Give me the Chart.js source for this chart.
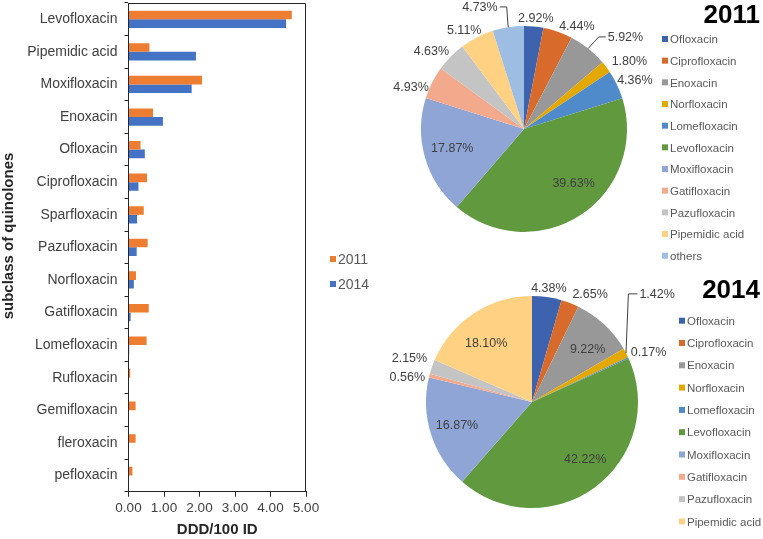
<!DOCTYPE html>
<html>
<head>
<meta charset="utf-8">
<script src="https://cdn.jsdelivr.net/npm/chart.js@4"></script>
<style>
  body { margin: 0; background: #fff; }
  canvas { position: absolute; left: 0; top: 0; }
</style>
</head>
<body>
<canvas id="barChart" width="763" height="539"></canvas>
<canvas id="pie2011" width="763" height="539"></canvas>
<canvas id="pie2014" width="763" height="539"></canvas>
<script>
// bar chart data (DDD/100 ID)
const categories = ['Levofloxacin', 'Pipemidic acid', 'Moxifloxacin', 'Enoxacin', 'Ofloxacin', 'Ciprofloxacin',
  'Sparfloxacin', 'Pazufloxacin', 'Norfloxacin', 'Gatifloxacin', 'Lomefloxacin', 'Rufloxacin',
  'Gemifloxacin', 'fleroxacin', 'pefloxacin'];
const ddd2011 = [4.60, 0.59, 2.07, 0.69, 0.34, 0.52, 0.43, 0.54, 0.21, 0.57, 0.51, 0.05, 0.20, 0.20, 0.11];
const ddd2014 = [4.44, 1.90, 1.78, 0.97, 0.46, 0.28, 0.24, 0.23, 0.15, 0.06, 0.02, 0, 0, 0, 0];
const xTicks = [0, 1, 2, 3, 4, 5];

// pie data (% share)
const pieNames2011 = ['Ofloxacin', 'Ciprofloxacin', 'Enoxacin', 'Norfloxacin', 'Lomefloxacin', 'Levofloxacin',
  'Moxifloxacin', 'Gatifloxacin', 'Pazufloxacin', 'Pipemidic acid', 'others'];
const share2011 = [2.92, 4.44, 5.92, 1.80, 4.36, 39.63, 17.87, 4.93, 4.63, 5.11, 4.73];
const pieNames2014 = ['Ofloxacin', 'Ciprofloxacin', 'Enoxacin', 'Norfloxacin', 'Lomefloxacin', 'Levofloxacin',
  'Moxifloxacin', 'Gatifloxacin', 'Pazufloxacin', 'Pipemidic acid'];
const share2014 = [4.38, 2.65, 9.22, 1.42, 0.17, 42.22, 16.87, 0.56, 2.15, 18.10];

const pieColors = ['#3d63ae', '#d86b2b', '#989898', '#e4a900', '#4f8bcb', '#61993f',
  '#8ea5d6', '#f2a98c', '#c4c4c4', '#ffd182', '#9dbde3'];

// label placement: [angle shift in deg, radius factor, leader side (0 none)]
const place2011 = [[0.6, 1.09, 0], [7.8, 1.13, 0], [9.2, 1.33, 1], [4, 1.22, 0], [1.3, 1.18, 0], [-9.4, 0.71, 0],
  [1.2, 0.72, 0], [-6.3, 1.17, 0], [-4.2, 1.18, 0], [-3.7, 1.13, 0], [-11, 1.26, -1]];
const place2014 = [[0.3, 1.095, 0], [7.2, 1.16, 0], [3.1, 0.73, 0], [-13.3, 1.56, 1], [1, 1.2, 0], [-6.9, 0.73, 0],
  [0.7, 0.74, 0], [-3, 1.2, 0], [0.6, 1.23, 0], [-4.2, 0.71, 0]];

Chart.defaults.font.family = '"Liberation Sans", Arial, sans-serif';
const ORANGE = '#ed7d31';
const BLUE = '#4472c4';

const framePlugin = {
  id: 'frame',
  afterDraw(chart) {
    const ctx = chart.ctx;
    const a = chart.chartArea;
    ctx.save();
    ctx.strokeStyle = '#262626';
    ctx.lineWidth = 1;
    ctx.beginPath();
    ctx.moveTo(a.left, a.top + 0.5);
    ctx.lineTo(a.right - 0.5, a.top + 0.5);
    ctx.lineTo(a.right - 0.5, a.bottom);
    ctx.stroke();
    // y axis title
    ctx.save();
    ctx.translate(9, 236);
    ctx.rotate(-Math.PI / 2);
    ctx.font = 'bold 15px "Liberation Sans"';
    ctx.fillStyle = '#262626';
    ctx.textAlign = 'center';
    ctx.textBaseline = 'middle';
    ctx.fillText('subclass of quinolones', 0, 0);
    ctx.restore();
    // series legend
    ctx.font = '14px "Liberation Sans"';
    ctx.textBaseline = 'middle';
    chart.data.datasets.forEach((ds, i) => {
      const y = 259 + i * 25;
      ctx.fillStyle = ds.backgroundColor;
      ctx.fillRect(330, y - 3, 6, 6);
      ctx.fillStyle = '#595959';
      ctx.fillText(ds.label, 338, y + 1);
    });
    ctx.restore();
  }
};

new Chart(document.getElementById('barChart'), {
  type: 'bar',
  data: {
    labels: categories,
    datasets: [
      { label: '2011', data: ddd2011, backgroundColor: ORANGE, borderWidth: 0 },
      { label: '2014', data: ddd2014, backgroundColor: BLUE, borderWidth: 0 }
    ]
  },
  options: {
    responsive: false,
    animation: false,
    indexAxis: 'y',
    categoryPercentage: 0.53,
    barPercentage: 1.0,
    layout: { padding: { top: 3, right: 457, left: 0, bottom: 0 } },
    plugins: { legend: { display: false }, tooltip: { enabled: false } },
    scales: {
      y: {
        grid: { drawOnChartArea: false, tickLength: 4, color: '#262626' },
        border: { color: '#262626', width: 1 },
        ticks: { font: { size: 14 }, color: '#404040', padding: 7, autoSkip: false },
        afterFit(scale) {
          scale.width = 128.5;
          scale.paddingTop = 0;
          scale.paddingBottom = 0;
        }
      },
      x: {
        min: 0,
        max: 5,
        grid: { drawOnChartArea: false, tickLength: 5, color: '#262626' },
        border: { color: '#262626', width: 1 },
        afterBuildTicks(scale) { scale.ticks = xTicks.map(v => ({ value: v })); },
        ticks: { font: { size: 13.5 }, color: '#404040', padding: 3, callback: v => v.toFixed(2) },
        title: { display: true, text: 'DDD/100 ID', font: { size: 15, weight: 'bold' }, color: '#262626', padding: 0 },
        afterFit(scale) { scale.height = 47.3; }
      }
    }
  },
  plugins: [framePlugin]
});

const piePlugin = {
  id: 'pieExtras',
  afterDatasetsDraw(chart, args, opts) {
    const ctx = chart.ctx;
    const meta = chart.getDatasetMeta(0);
    const values = chart.data.datasets[0].data;
    ctx.save();
    ctx.font = '12.5px "Liberation Sans"';
    ctx.textBaseline = 'middle';
    meta.data.forEach((arc, i) => {
      const [shift, factor, side] = opts.place[i];
      const mid = (arc.startAngle + arc.endAngle) / 2;
      const ang = mid + shift * Math.PI / 180;
      const R = arc.outerRadius;
      const x = arc.x + Math.cos(ang) * R * factor;
      const y = arc.y + Math.sin(ang) * R * factor;
      const text = values[i].toFixed(2) + '%';
      const w = ctx.measureText(text).width;
      ctx.fillStyle = '#404040';
      ctx.textAlign = 'center';
      ctx.fillText(text, x, y + 1);
      if (side) {
        const ex = arc.x + Math.cos(mid) * R;
        const ey = arc.y + Math.sin(mid) * R;
        const edge = x - side * w / 2;
        ctx.strokeStyle = '#404040';
        ctx.lineWidth = 1;
        ctx.beginPath();
        ctx.moveTo(ex, ey);
        ctx.lineTo(edge - side * opts.elbow, y);
        ctx.lineTo(edge - side * 2, y);
        ctx.stroke();
      }
    });
    // legend
    ctx.font = '11.5px "Liberation Sans"';
    ctx.textAlign = 'left';
    chart.data.labels.forEach((name, i) => {
      const y = opts.legendY + i * opts.legendStep;
      ctx.fillStyle = chart.data.datasets[0].backgroundColor[i];
      ctx.fillRect(opts.legendX, y - 3, 6, 6);
      ctx.fillStyle = '#595959';
      ctx.fillText(name, opts.legendX + 8, y + 1);
    });
    // title
    ctx.font = 'bold 26px "Liberation Sans"';
    ctx.textAlign = 'right';
    ctx.textBaseline = 'alphabetic';
    ctx.fillStyle = '#000';
    ctx.fillText(opts.title, 760, opts.titleY);
    ctx.restore();
  }
};

function makePie(id, names, shares, padding, extras) {
  new Chart(document.getElementById(id), {
    type: 'pie',
    data: {
      labels: names,
      datasets: [{ data: shares, backgroundColor: pieColors.slice(0, shares.length), borderWidth: 0 }]
    },
    options: {
      responsive: false,
      animation: false,
      layout: { padding: padding },
      plugins: { legend: { display: false }, tooltip: { enabled: false }, pieExtras: extras }
    },
    plugins: [piePlugin]
  });
}

makePie('pie2011', pieNames2011, share2011, { left: 421, right: 136, top: 26, bottom: 307 },
  { place: place2011, elbow: 9, legendX: 662, legendY: 39, legendStep: 21.67, title: '2011', titleY: 23.3 });
makePie('pie2014', pieNames2014, share2014, { left: 426, right: 125, top: 296, bottom: 31 },
  { place: place2014, elbow: 11, legendX: 679, legendY: 320.7, legendStep: 22.3, title: '2014', titleY: 298.3 });
</script>
</body>
</html>
